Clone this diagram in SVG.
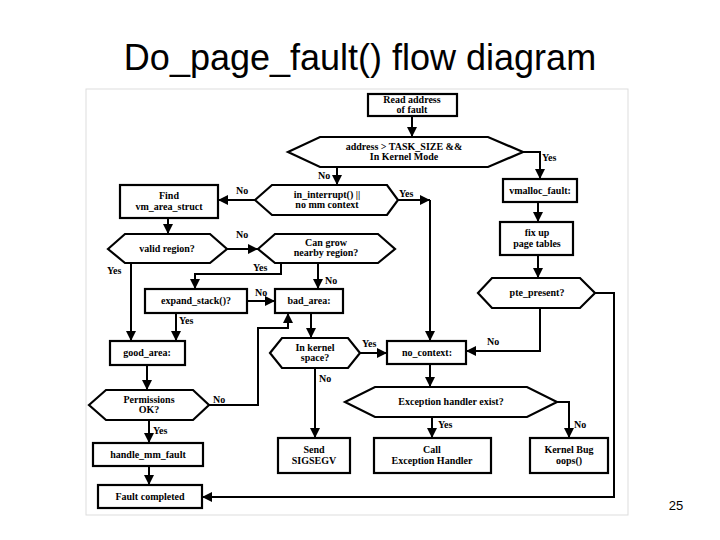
<svg xmlns="http://www.w3.org/2000/svg" width="720" height="540" viewBox="0 0 720 540">
<style>
.b{fill:#fff;stroke:#000;stroke-width:2.2}
.t{font-family:"Liberation Serif",serif;font-size:10px;font-weight:bold;text-anchor:middle;fill:#000}
.l{font-family:"Liberation Serif",serif;font-size:10px;font-weight:bold;fill:#000}
.c{fill:none;stroke:#000;stroke-width:2}
</style>
<defs><marker id="a" viewBox="0 0 10 10" refX="10" refY="5" markerWidth="5" markerHeight="5" orient="auto"><path d="M0,0L10,5L0,10z" fill="#000"/></marker></defs>
<rect width="720" height="540" fill="#fff"/>
<text x="360" y="70" font-family="Liberation Sans,Arial,sans-serif" font-size="36" text-anchor="middle">Do_page_fault() flow diagram</text>
<text x="676" y="510" font-family="Liberation Sans,Arial,sans-serif" font-size="13" text-anchor="middle">25</text>
<rect x="86" y="89" width="542" height="426" fill="none" stroke="#ddd" stroke-width="1"/>
<g id="connectors">
<path class="c" d="M412,116V137" marker-end="url(#a)"/>
<path class="c" d="M337,167V185" marker-end="url(#a)"/>
<path class="c" d="M523,152H540V179" marker-end="url(#a)"/>
<path class="c" d="M255,200H218" marker-end="url(#a)"/>
<path class="c" d="M398,200H430" marker-end="url(#a)"/>
<path class="c" d="M430,200V341" marker-end="url(#a)"/>
<path class="c" d="M168,218V234" marker-end="url(#a)"/>
<path class="c" d="M227,249H258" marker-end="url(#a)"/>
<path class="c" d="M131,263V341" marker-end="url(#a)"/>
<path class="c" d="M281,263V274H195V289" marker-end="url(#a)"/>
<path class="c" d="M318,263V289" marker-end="url(#a)"/>
<path class="c" d="M247,301H275" marker-end="url(#a)"/>
<path class="c" d="M176,313V341" marker-end="url(#a)"/>
<path class="c" d="M147,365V390" marker-end="url(#a)"/>
<path class="c" d="M209,405H258V328H288V313" marker-end="url(#a)"/>
<path class="c" d="M149,420V443" marker-end="url(#a)"/>
<path class="c" d="M149,466V485" marker-end="url(#a)"/>
<path class="c" d="M311,313V338" marker-end="url(#a)"/>
<path class="c" d="M360,353H387" marker-end="url(#a)"/>
<path class="c" d="M315,368V438" marker-end="url(#a)"/>
<path class="c" d="M540,308V351H466" marker-end="url(#a)"/>
<path class="c" d="M595,293H614V497H202" marker-end="url(#a)"/>
<path class="c" d="M430,364V387" marker-end="url(#a)"/>
<path class="c" d="M432,417V438" marker-end="url(#a)"/>
<path class="c" d="M557,402H569V438" marker-end="url(#a)"/>
<path class="c" d="M538,202V222" marker-end="url(#a)"/>
<path class="c" d="M538,255V278" marker-end="url(#a)"/>
<text class="l" x="318" y="179">No</text>
<text class="l" x="542" y="161">Yes</text>
<text class="l" x="236" y="194">No</text>
<text class="l" x="399" y="197">Yes</text>
<text class="l" x="236" y="238">No</text>
<text class="l" x="107" y="274">Yes</text>
<text class="l" x="253" y="271">Yes</text>
<text class="l" x="325" y="284">No</text>
<text class="l" x="255" y="296">No</text>
<text class="l" x="179" y="324">Yes</text>
<text class="l" x="213" y="403">No</text>
<text class="l" x="153" y="434">Yes</text>
<text class="l" x="362" y="347">Yes</text>
<text class="l" x="319" y="382">No</text>
<text class="l" x="487" y="345">No</text>
<text class="l" x="438" y="428">Yes</text>
<text class="l" x="574" y="428">No</text>
</g>
<g id="read"><rect class="b" x="368" y="94" width="89" height="22"/><text class="t" x="412" y="103">Read address</text><text class="t" x="412" y="113">of fault</text></g>
<g id="addr"><polygon class="b" points="288,152 320,137 488,137 523,152 488,167 320,167"/><text class="t" x="404" y="150">address &gt; TASK_SIZE &amp;&amp;</text><text class="t" x="404" y="160">In Kernel Mode</text></g>
<g id="interrupt"><polygon class="b" points="255,200 272,185 387,185 398,200 387,215 272,215"/><text class="t" x="327" y="198">in_interrupt() ||</text><text class="t" x="327" y="208">no mm context</text></g>
<g id="find"><rect class="b" x="120" y="185" width="98" height="33"/><text class="t" x="169" y="199">Find</text><text class="t" x="169" y="210">vm_area_struct</text></g>
<g id="valid"><polygon class="b" points="108,249 125,234 210,234 227,249 210,263 125,263"/><text class="t" x="167" y="252">valid region?</text></g>
<g id="grow"><polygon class="b" points="258,249 275,234 378,234 395,249 378,263 275,263"/><text class="t" x="326" y="246">Can grow</text><text class="t" x="326" y="256">nearby region?</text></g>
<g id="expand"><rect class="b" x="145" y="289" width="102" height="24"/><text class="t" x="196" y="304">expand_stack()?</text></g>
<g id="bad"><rect class="b" x="275" y="289" width="68" height="24"/><text class="t" x="309" y="304">bad_area:</text></g>
<g id="good"><rect class="b" x="110" y="341" width="75" height="24"/><text class="t" x="147" y="356">good_area:</text></g>
<g id="perm"><polygon class="b" points="89,405 106,390 193,390 209,405 193,420 106,420"/><text class="t" x="149" y="403">Permissions</text><text class="t" x="149" y="413">OK?</text></g>
<g id="handle"><rect class="b" x="93" y="443" width="110" height="23"/><text class="t" x="148" y="458">handle_mm_fault</text></g>
<g id="completed"><rect class="b" x="98" y="485" width="104" height="23"/><text class="t" x="150" y="500">Fault completed</text></g>
<g id="kernel"><polygon class="b" points="270,353 282,338 348,338 360,353 348,368 282,368"/><text class="t" x="315" y="351">In kernel</text><text class="t" x="315" y="361">space?</text></g>
<g id="sigsegv"><rect class="b" x="278" y="438" width="72" height="35"/><text class="t" x="314" y="453">Send</text><text class="t" x="314" y="464">SIGSEGV</text></g>
<g id="nocontext"><rect class="b" x="387" y="341" width="79" height="23"/><text class="t" x="427" y="356">no_context:</text></g>
<g id="exc"><polygon class="b" points="345,402 375,387 527,387 557,402 527,417 375,417"/><text class="t" x="451" y="405">Exception handler exist?</text></g>
<g id="call"><rect class="b" x="374" y="438" width="117" height="35"/><text class="t" x="432" y="453">Call</text><text class="t" x="432" y="464">Exception Handler</text></g>
<g id="bug"><rect class="b" x="530" y="438" width="78" height="35"/><text class="t" x="569" y="453">Kernel Bug</text><text class="t" x="569" y="464">oops()</text></g>
<g id="vmalloc"><rect class="b" x="503" y="179" width="74" height="23"/><text class="t" x="540" y="194">vmalloc_fault:</text></g>
<g id="fixup"><rect class="b" x="500" y="222" width="73" height="33"/><text class="t" x="537" y="236">fix up</text><text class="t" x="537" y="247">page tables</text></g>
<g id="pte"><polygon class="b" points="478,293 492,278 580,278 595,293 580,308 492,308"/><text class="t" x="537" y="296">pte_present?</text></g>
</svg>
